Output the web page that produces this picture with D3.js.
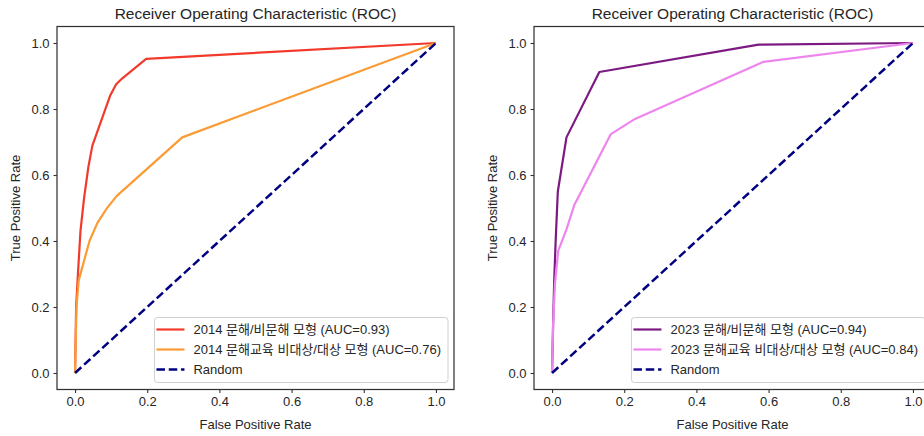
<!DOCTYPE html>
<html>
<head>
<meta charset="utf-8">
<script src="https://cdn.jsdelivr.net/npm/d3@7"></script>
<style>
  body { margin: 0; background: #fff; }
  text { font-family: "Liberation Sans", Arial, "Noto Sans CJK KR", sans-serif; fill: #262626; }
</style>
</head>
<body>
<div id="container"></div>
<script>
/* data */
var titles = ["Receiver Operating Characteristic (ROC)", "Receiver Operating Characteristic (ROC)"]
var ticks = [0.0, 0.2, 0.4, 0.6, 0.8, 1.0]

var fpr2014a = [0, 0.003, 0.008, 0.015, 0.025, 0.037, 0.048, 0.097, 0.114, 0.131, 0.197, 1]
var tpr2014a = [0, 0.20, 0.30, 0.43, 0.53, 0.625, 0.689, 0.84, 0.875, 0.893, 0.952, 1]
var fpr2014b = [0, 0.004, 0.01, 0.02, 0.04, 0.062, 0.088, 0.115, 0.297, 1]
var tpr2014b = [0, 0.20, 0.28, 0.32, 0.40, 0.455, 0.499, 0.536, 0.714, 1]

var fpr2023a = [0, 0.003, 0.006, 0.01, 0.016, 0.04, 0.131, 0.572, 1]
var tpr2023a = [0, 0.15, 0.28, 0.40, 0.55, 0.714, 0.912, 0.995, 1]
var fpr2023b = [0, 0.003, 0.008, 0.017, 0.04, 0.062, 0.163, 0.23, 0.586, 1]
var tpr2023b = [0, 0.15, 0.27, 0.37, 0.435, 0.51, 0.724, 0.77, 0.943, 1]

var randomLine = [0, 1]

var labels2014 = ["2014 문해/비문해 모형 (AUC=0.93)", "2014 문해교육 비대상/대상 모형 (AUC=0.76)", "Random"]
var labels2023 = ["2023 문해/비문해 모형 (AUC=0.94)", "2023 문해교육 비대상/대상 모형 (AUC=0.84)", "Random"]
var colors2014 = ["#f23a2c", "#fb9b34", "#000080"]
var colors2023 = ["#7d1a82", "#ee85ee", "#000080"]

function zip(xs, ys) { return xs.map(function(x, i) { return [x, ys[i]] }) }

var panels = [
  { left: 57, title: titles[0], labels: labels2014, colors: colors2014,
    series: [zip(fpr2014a, tpr2014a), zip(fpr2014b, tpr2014b), zip(randomLine, randomLine)] },
  { left: 534, title: titles[1], labels: labels2023, colors: colors2023,
    series: [zip(fpr2023a, tpr2023a), zip(fpr2023b, tpr2023b), zip(randomLine, randomLine)] }
]

var W = 924, H = 436
var marginTop = 26.5, pw = 397, ph = 363
var dash = "8.5,3.8"

var svg = d3.select("#container").append("svg")
  .attr("width", W).attr("height", H)

panels.forEach(function(p) {
  var x = d3.scaleLinear().domain([-0.05, 1.05]).range([0, pw])
  var y = d3.scaleLinear().domain([-0.05, 1.05]).range([ph, 0])

  var g = svg.append("g").attr("transform", "translate(" + p.left + "," + marginTop + ")")

  /* title */
  g.append("text")
    .attr("x", pw / 2).attr("y", -8)
    .attr("text-anchor", "middle")
    .style("font-size", "15.5px")
    .text(p.title)

  /* axes */
  var xa = g.append("g").attr("transform", "translate(0," + ph + ")")
    .call(d3.axisBottom(x).tickValues(ticks).tickFormat(d3.format(".1f")).tickSize(3.5).tickPadding(4))
  var ya = g.append("g")
    .call(d3.axisLeft(y).tickValues(ticks).tickFormat(d3.format(".1f")).tickSize(3.5).tickPadding(4))
  ;[xa, ya].forEach(function(a) {
    a.select(".domain").remove()
    a.selectAll(".tick line").attr("stroke", "#333").attr("stroke-width", 1.1)
    a.selectAll(".tick text").style("font-size", "13px").attr("fill", "#262626")
      .style("font-family", "'Liberation Sans', Arial, sans-serif")
  })

  g.append("text")
    .attr("x", pw / 2).attr("y", ph + 39)
    .attr("text-anchor", "middle")
    .style("font-size", "13px")
    .text("False Positive Rate")
  g.append("text")
    .attr("transform", "translate(-37," + (ph / 2) + ") rotate(-90)")
    .attr("text-anchor", "middle")
    .style("font-size", "13px")
    .text("True Positive Rate")

  /* curves */
  var line = d3.line().x(function(d) { return x(d[0]) }).y(function(d) { return y(d[1]) })
  p.series.forEach(function(s, i) {
    g.append("path")
      .datum(s)
      .attr("fill", "none")
      .attr("stroke", p.colors[i])
      .attr("stroke-width", i == 2 ? 2.5 : 2.2)
      .attr("stroke-linejoin", "round")
      .attr("stroke-dasharray", i == 2 ? dash : null)
      .attr("d", line)
  })

  /* frame */
  g.append("rect")
    .attr("width", pw).attr("height", ph)
    .attr("fill", "none").attr("stroke", "#333").attr("stroke-width", 1.25)

  /* legend */
  var lg = g.append("g")
  var box = lg.append("rect")
    .attr("fill", "#fff").attr("fill-opacity", 0.8)
    .attr("stroke", "#d0d0d0").attr("rx", 3)
  var maxW = 0
  p.labels.forEach(function(lab, i) {
    var yy = 12 + i * 20
    lg.append("line")
      .attr("x1", 2).attr("x2", 30).attr("y1", yy).attr("y2", yy)
      .attr("stroke", p.colors[i]).attr("stroke-width", i == 2 ? 2.5 : 2.2)
      .attr("stroke-dasharray", i == 2 ? dash : null)
    var t = lg.append("text")
      .attr("x", 39).attr("y", yy).attr("dy", "0.35em")
      .style("font-size", "13px")
      .text(lab)
    maxW = Math.max(maxW, t.node().getComputedTextLength())
  })
  var bw = 39 + maxW + 7, bh = 65
  box.attr("x", 0).attr("y", 0).attr("width", bw).attr("height", bh)
  lg.attr("transform", "translate(" + (pw - 6 - bw) + "," + (ph - 7 - bh) + ")")
})
</script>
</body>
</html>
